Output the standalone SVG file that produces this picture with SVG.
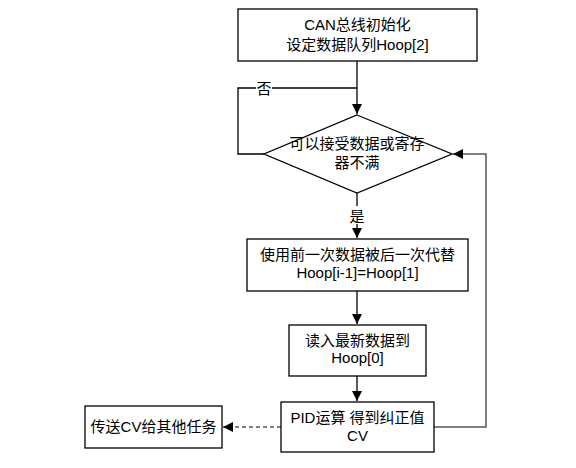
<svg xmlns="http://www.w3.org/2000/svg" width="576" height="468" viewBox="0 0 576 468">
<defs>
<style>
.box{fill:#fff;stroke:#000;stroke-width:1.3}
.t{font-family:"Liberation Sans","Noto Sans CJK SC",sans-serif;font-size:15px;fill:#000;text-anchor:middle}
.c{fill:none;stroke:#000;stroke-width:1.3}
.g{fill:none;stroke:#555;stroke-width:1.5}
.d{fill:none;stroke:#555;stroke-width:1.3;stroke-dasharray:4,3}
</style>
<marker id="ah" markerWidth="10" markerHeight="10" refX="10" refY="5" orient="auto" markerUnits="userSpaceOnUse">
<path d="M0,0 L10,5 L0,10 z" fill="#000"/>
</marker>
</defs>
<rect width="576" height="468" fill="#fff"/>
<g id="connectors">
<path class="c" d="M357,61 V114" marker-end="url(#ah)"/>
<path class="c" d="M264,154 H238 V88 H357"/>
<path class="c" d="M357,193 V238" marker-end="url(#ah)"/>
<path class="c" d="M357,291 V324" marker-end="url(#ah)"/>
<path class="c" d="M357,376 V401" marker-end="url(#ah)"/>
<path class="g" d="M434,427 H486 V154 H453" marker-end="url(#ah)"/>
<path class="d" d="M281,427 H223" marker-end="url(#ah)"/>
<rect x="256" y="80" width="16" height="16" fill="#fff"/>
<text class="t" x="264" y="94">否</text>
<rect x="349" y="206" width="16" height="18" fill="#fff"/>
<text class="t" x="357" y="222">是</text>
</g>
<g id="init">
<rect class="box" x="238" y="9" width="239" height="52"/>
<text class="t" x="357.5" y="30">CAN总线初始化</text>
<text class="t" x="357.5" y="50">设定数据队列Hoop[2]</text>
</g>
<g id="decision">
<path class="box" d="M357,115 L452,154 L357,193 L264,154 z"/>
<text class="t" x="357" y="149">可以接受数据或寄存</text>
<text class="t" x="357" y="168">器不满</text>
</g>
<g id="shift">
<rect class="box" x="247" y="239" width="221" height="52"/>
<text class="t" x="357.5" y="260">使用前一次数据被后一次代替</text>
<text class="t" x="357.5" y="278">Hoop[i-1]=Hoop[1]</text>
</g>
<g id="read">
<rect class="box" x="289" y="325" width="137" height="51"/>
<text class="t" x="357.5" y="346">读入最新数据到</text>
<text class="t" x="357.5" y="363">Hoop[0]</text>
</g>
<g id="pid">
<rect class="box" x="281" y="402" width="153" height="50"/>
<text class="t" x="357.5" y="423">PID运算 得到纠正值</text>
<text class="t" x="357.5" y="441">CV</text>
</g>
<g id="send">
<rect class="box" x="85" y="406" width="137" height="42"/>
<text class="t" x="153.5" y="432">传送CV给其他任务</text>
</g>
</svg>
